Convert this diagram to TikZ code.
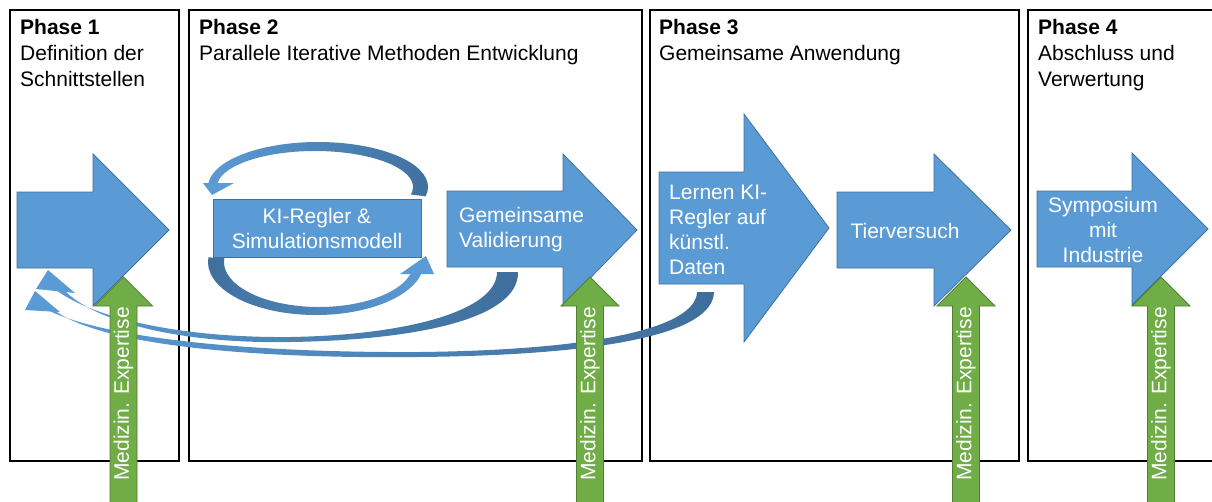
\documentclass[tikz,border=0pt]{standalone}
\usepackage{fontspec}
\setmainfont{Liberation Sans}
\usepackage{xcolor}
\usepackage{tikz}
\usetikzlibrary{calc,positioning}

\definecolor{phaseblue}{HTML}{5B9BD5}
\definecolor{phaseblueline}{HTML}{41719C}
\definecolor{ribbondark}{HTML}{3F6E9C}
\definecolor{expgreen}{HTML}{70AD47}
\definecolor{expgreenline}{HTML}{507E32}

\begin{document}
\begin{tikzpicture}[x=1pt,y=-1pt,
    bigtext/.style={font=\fontsize{21}{25}\selectfont, text=white, inner sep=0pt},
    phasetext/.style={font=\fontsize{21}{26}\selectfont, inner sep=0pt, anchor=north west, align=left},
    blockarrow/.style={fill=phaseblue, draw=phaseblueline, line width=0.8pt},
    greenarrow/.style={fill=expgreen, draw=expgreenline, line width=0.8pt}]
    \clip (0,0) rectangle (1212,501);
    \fill[white] (0,0) rectangle (1212,501);
    % Phase frames
    \foreach \a/\b in {10/179,189/642,650/1019,1028/1240} {
      \draw[line width=1.3pt] (\a,10) rectangle (\b,461);
    }
    \node[phasetext] (ph1) at (20,19) {\textbf{Phase 1}\\Definition der\\Schnittstellen};
    \node[phasetext] (ph2) at (199,19) {\textbf{Phase 2}\\Parallele Iterative Methoden Entwicklung};
    \node[phasetext] (ph3) at (659,19) {\textbf{Phase 3}\\Gemeinsame Anwendung};
    \node[phasetext] (ph4) at (1038,19) {\textbf{Phase 4}\\Abschluss und\\Verwertung};
    % Iteration loop round the KI box
    \shade[left color=phaseblue, right color=ribbondark]
      ($(318,187)+(12:110 and 45)$) arc[start angle=12, end angle=-180, x radius=110, y radius=45]
      -- ($(315,187)+(-180:98 and 36)$) arc[start angle=-180, end angle=12, x radius=98, y radius=36] -- cycle;
    \fill[phaseblue] (203,183) -- (212,195) -- (234,183) -- cycle;
    \shade[left color=ribbondark, right color=phaseblue]
      ($(316,262)+(185:108 and 53)$) arc[start angle=185, end angle=10, x radius=108, y radius=53]
      -- ($(319,262)+(10:95 and 45)$) arc[start angle=10, end angle=185, x radius=95, y radius=45] -- cycle;
    \fill[phaseblue] (400,274) -- (426,256) -- (434,274) -- cycle;
    \node[fill=phaseblue, draw=phaseblueline, line width=0.8pt, minimum width=208pt, minimum height=58pt,
      bigtext, align=center] (ki) at (317,228) {KI-Regler \&\\Simulationsmodell};
    % Block arrows of the phases
    \foreach \a/\b/\c/\t/\u/\h/\k in {17/93/169/192/268/154/306, 447/563/637/191/267/154/306,
        659/744/829/172/284/114/342, 837/934/1011/192/268/154/306, 1037/1132/1208/191/267/153/305} {
      \draw[blockarrow] (\a,\t) -- (\b,\t) -- (\b,\h) -- (\c,{(\h+\k)/2}) -- (\b,\k) -- (\b,\u) -- (\a,\u) -- cycle;
    }
    \node[bigtext, align=left, anchor=west] (val) at (459,230) {Gemeinsame\\Validierung};
    \node[bigtext, align=left, anchor=west] (lern) at (669,230) {Lernen KI-\\Regler auf\\künstl.\\Daten};
    \node[bigtext] (tier) at (905,231) {Tierversuch};
    \node[bigtext, align=center] (symp) at (1103,230) {Symposium\\mit\\Industrie};
    % Feedback back to phase 1
    \shade[left color=phaseblue, right color=ribbondark]
      (518,272) .. controls (519,318) and (420,340) .. (290,342)
      .. controls (180,344) and (95,322) .. (64,290)
      -- (52,287) .. controls (90,318) and (180,338) .. (290,337)
      .. controls (410,335) and (497,310) .. (497,272) -- cycle;
    \fill[phaseblue] (36,289) -- (48,270) -- (75,293) -- cycle;
    \shade[left color=phaseblue, right color=ribbondark]
      (714,292) .. controls (713,335) and (600,355) .. (420,357)
      .. controls (250,359) and (100,345) .. (54,310)
      -- (42,307) .. controls (95,338) and (250,353) .. (420,352)
      .. controls (595,350) and (696,328) .. (697,292) -- cycle;
    \fill[phaseblue] (25,310) -- (35,291) -- (60,312) -- cycle;
    % Medical expertise
    \foreach \g [count=\i] in {123.5,590,966,1161} {
      \draw[greenarrow] (\g-13.5,520) -- (\g-13.5,306) -- (\g-29,306) -- (\g,277) -- (\g+29,306)
        -- (\g+13.5,306) -- (\g+13.5,520) -- cycle;
      \node[bigtext, rotate=90] (exp\i) at (\g,394) {Medizin. Expertise};
    }
\end{tikzpicture}
\end{document}
